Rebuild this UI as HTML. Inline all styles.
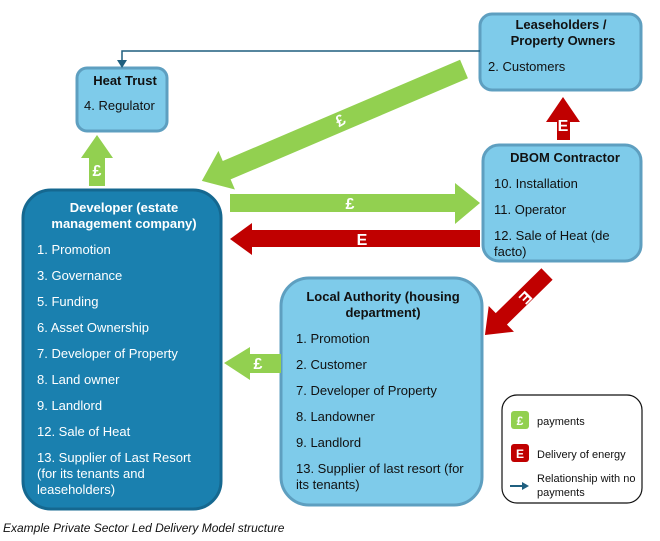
<!DOCTYPE html>
<html><head><meta charset="utf-8"><style>
html,body{margin:0;padding:0;background:#fff;width:660px;height:541px;overflow:hidden}
svg{display:block}
text{font-family:"Liberation Sans",Arial,sans-serif;font-size:13px;fill:#111}
.b{font-weight:bold}
.w{fill:#fff}
.s{fill:#fff;font-weight:bold;font-size:16px}
</style></head><body>
<svg width="660" height="541" viewBox="0 0 660 541">
<!-- boxes -->
<rect x="480" y="14" width="161" height="76" rx="12" fill="#7ecbea" stroke="#5e9fc0" stroke-width="3"/>
<rect x="77" y="68" width="90" height="63" rx="10" fill="#7ecbea" stroke="#5e9fc0" stroke-width="3"/>
<rect x="483" y="145" width="158" height="116" rx="16" fill="#7ecbea" stroke="#5e9fc0" stroke-width="3"/>
<rect x="23" y="190" width="198" height="319" rx="28" fill="#1a80af" stroke="#156890" stroke-width="3"/>
<rect x="281" y="278" width="201" height="227" rx="28" fill="#7ecbea" stroke="#5e9fc0" stroke-width="3"/>
<rect x="502" y="395" width="140" height="108" rx="15" fill="#fff" stroke="#111" stroke-width="1.2"/>

<!-- thin connector -->
<polyline points="480,51 122,51 122,62" fill="none" stroke="#1f5f7f" stroke-width="1.5"/>
<polygon points="117,60 127,60 122,68" fill="#1f5f7f"/>

<!-- green diagonal -->
<polygon points="0,-10 258,-10 258,-21 285,0 258,21 258,10 0,10" fill="#92d050" transform="translate(464,69) rotate(156.9)"/>
<text class="s" x="340" y="126" transform="rotate(-30 340 120)" text-anchor="middle">£</text>
<!-- green up -->
<polygon points="105,186 105,158 113,158 97,135 81,158 89,158 89,186" fill="#92d050"/>
<text class="s" x="97" y="176" text-anchor="middle">£</text>
<!-- green right -->
<polygon points="230,194 455,194 455,183 480,203 455,224 455,212 230,212" fill="#92d050"/>
<text class="s" x="350" y="209" text-anchor="middle">£</text>
<!-- red left -->
<polygon points="480,230 252,230 252,223 230,239 252,255 252,247 480,247" fill="#c00000"/>
<text class="s" x="362" y="245" text-anchor="middle">E</text>
<!-- red up -->
<polygon points="557,140 557,122 546,122 563,97 580,122 570,122 570,140" fill="#c00000"/>
<text class="s" x="563" y="131" text-anchor="middle">E</text>
<!-- red diagonal -->
<polygon points="0,-8 64,-8 64,-18 87,0 64,18 64,8 0,8" fill="#c00000" transform="translate(547,274) rotate(135.5)"/>
<text class="s" x="526" y="304" transform="rotate(135 526 298)" text-anchor="middle">E</text>
<!-- green left small -->
<polygon points="281,354 250,354 250,347 224,363 250,380 250,373 281,373" fill="#92d050"/>
<text class="s" x="258" y="369" text-anchor="middle">£</text>

<!-- texts -->
<text class="b" x="561" y="29" text-anchor="middle">Leaseholders /</text>
<text class="b" x="563" y="45" text-anchor="middle">Property Owners</text>
<text x="488" y="71">2. Customers</text>

<text class="b" x="125" y="85" text-anchor="middle">Heat Trust</text>
<text x="84" y="110">4. Regulator</text>

<text class="b" x="565" y="162" text-anchor="middle">DBOM Contractor</text>
<text x="494" y="188">10. Installation</text>
<text x="494" y="214">11. Operator</text>
<text x="494" y="240">12. Sale of Heat (de</text>
<text x="494" y="256">facto)</text>

<text class="b w" x="124" y="212" text-anchor="middle">Developer (estate</text>
<text class="b w" x="124" y="228" text-anchor="middle">management company)</text>
<text class="w" x="37" y="254">1. Promotion</text>
<text class="w" x="37" y="280">3. Governance</text>
<text class="w" x="37" y="306">5. Funding</text>
<text class="w" x="37" y="332">6. Asset Ownership</text>
<text class="w" x="37" y="358">7. Developer of Property</text>
<text class="w" x="37" y="384">8. Land owner</text>
<text class="w" x="37" y="410">9. Landlord</text>
<text class="w" x="37" y="436">12. Sale of Heat</text>
<text class="w" x="37" y="462">13. Supplier of Last Resort</text>
<text class="w" x="37" y="478">(for its tenants and</text>
<text class="w" x="37" y="494">leaseholders)</text>

<text class="b" x="383" y="301" text-anchor="middle">Local Authority (housing</text>
<text class="b" x="383" y="317" text-anchor="middle">department)</text>
<text x="296" y="343">1. Promotion</text>
<text x="296" y="369">2. Customer</text>
<text x="296" y="395">7. Developer of Property</text>
<text x="296" y="421">8. Landowner</text>
<text x="296" y="447">9. Landlord</text>
<text x="296" y="473">13. Supplier of last resort (for</text>
<text x="296" y="489">its tenants)</text>

<!-- legend -->
<rect x="511" y="411" width="18" height="18" rx="3" fill="#92d050"/>
<text class="b w" x="520" y="425" text-anchor="middle" style="font-size:12px">£</text>
<text x="537" y="425" style="font-size:11px">payments</text>
<rect x="511" y="444" width="18" height="18" rx="3" fill="#c00000"/>
<text class="b w" x="520" y="458" text-anchor="middle" style="font-size:12px">E</text>
<text x="537" y="458" style="font-size:11px">Delivery of energy</text>
<line x1="510" y1="486" x2="524" y2="486" stroke="#1f5f7f" stroke-width="2"/>
<polygon points="522,482 529,486 522,490" fill="#1f5f7f"/>
<text x="537" y="482" style="font-size:11px">Relationship with no</text>
<text x="537" y="496" style="font-size:11px">payments</text>

<text x="3" y="532" style="font-style:italic;font-size:12px">Example Private Sector Led Delivery Model structure</text>
</svg>
</body></html>
